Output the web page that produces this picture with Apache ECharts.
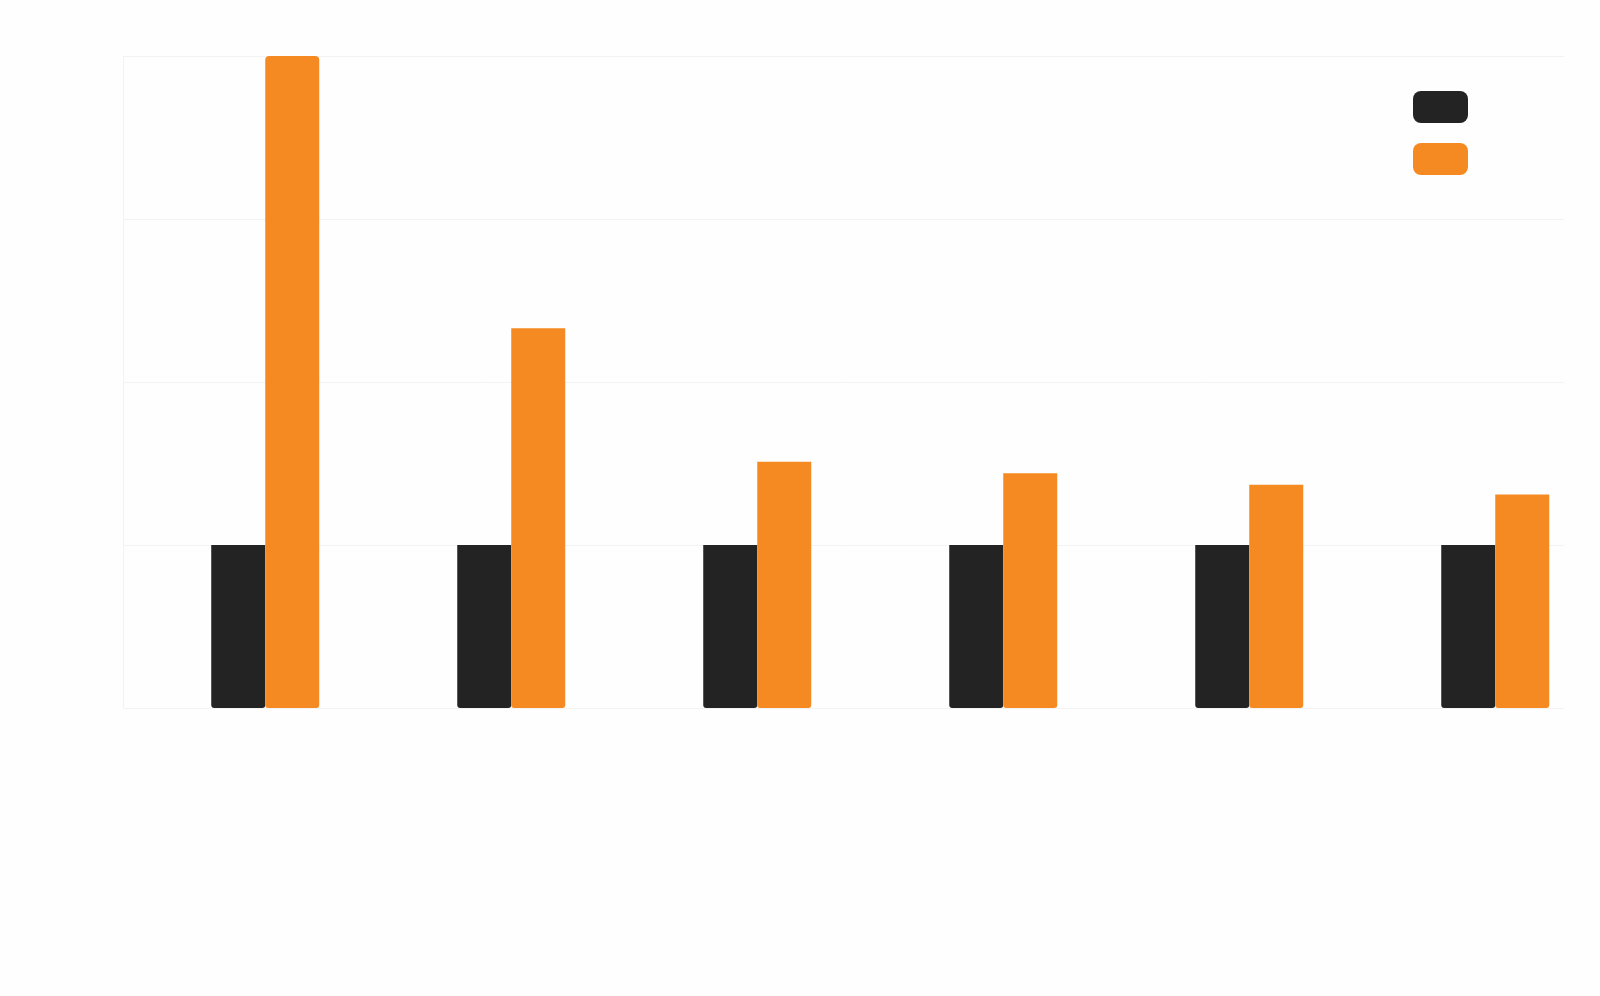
<!DOCTYPE html>
<html>
<head>
<meta charset="utf-8">
<script src="https://cdn.jsdelivr.net/npm/echarts@6/dist/echarts.min.js"></script>
<style>
  html, body { margin: 0; padding: 0; background: #fff; }
  #chart { width: 1600px; height: 996px; }
</style>
</head>
<body>
<div id="chart"></div>
<script>
// positions of the six groups along the (hidden) x axis
const periods = [1, 2, 3, 4, 5, 6];
const seriesNames = ["基准", "实际"];
const baseValues = [100, 100, 100, 100, 100, 100];
const actualValues = [400, 233, 151, 144, 137, 131];
const yTicks = [0, 100, 200, 300, 400];

const chart = echarts.init(document.getElementById("chart"));

chart.setOption({
  backgroundColor: "#fefefe",
  animation: false,
  grid: { left: 123, right: 36, top: 56, bottom: 288 },
  legend: {
    left: 1408,
    top: 86,
    orient: "vertical",
    icon: "roundRect",
    itemWidth: 55,
    itemHeight: 32,
    itemGap: 20,
    formatter: () => "",
    data: seriesNames,
  },
  xAxis: {
    type: "value",
    min: 0.4218,
    max: 6.2795,
    show: false,
  },
  yAxis: {
    type: "value",
    min: yTicks[0],
    max: yTicks[yTicks.length - 1],
    interval: 100,
    axisLabel: { show: false },
    axisTick: { show: false },
    axisLine: { show: true, lineStyle: { color: "#f3f3f3" } },
    splitLine: { lineStyle: { color: "#f3f3f3" } },
  },
  series: [
    {
      name: seriesNames[0],
      type: "bar",
      barWidth: 54,
      barGap: "0%",
      itemStyle: { color: "#232323", borderRadius: [0, 0, 3, 3] },
      data: periods.map((p, i) => [p, baseValues[i]]),
    },
    {
      name: seriesNames[1],
      type: "bar",
      barWidth: 54,
      barGap: "0%",
      itemStyle: { color: "#f68a22", borderRadius: [0, 0, 3, 3] },
      data: periods.map((p, i) =>
        i === 0
          ? { value: [p, actualValues[i]], itemStyle: { borderRadius: [4, 4, 3, 3] } }
          : [p, actualValues[i]]
      ),
    },
  ],
});
</script>
</body>
</html>
